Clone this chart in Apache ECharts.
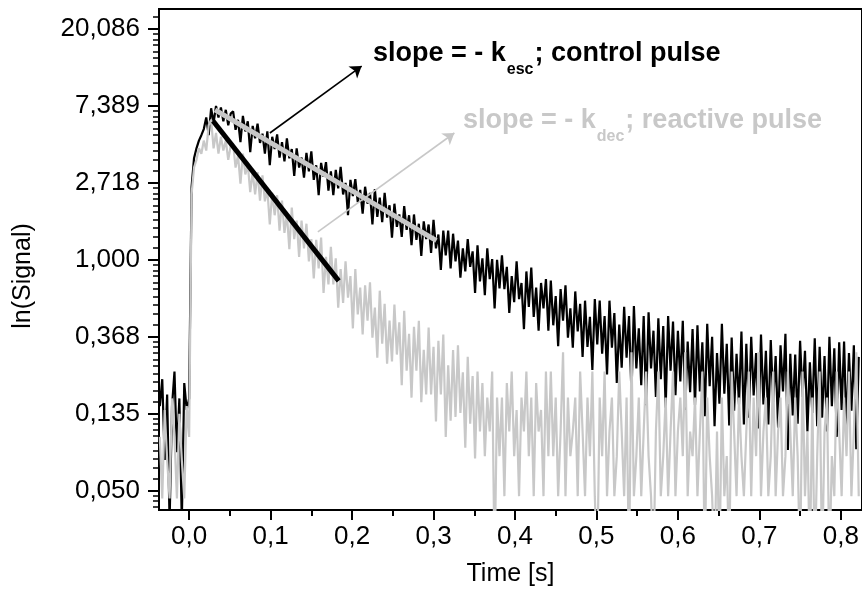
<!DOCTYPE html>
<html><head><meta charset="utf-8">
<script src="https://cdn.jsdelivr.net/npm/echarts@6.0.0/dist/echarts.min.js"></script>
<style>html,body{margin:0;padding:0;background:#fff}#c{width:862px;height:596px}</style>
</head><body><div id="c"></div>
<script>
// time sampling of the recorded traces [s]
const T0 = -0.036, DT = 0.003;
// ln(Signal) of the control pulse (black)
const controlPulse = [
-1.9,-1.55,-2.6,-1.75,-3.4,-1.9,-1.45,-2.5,-1.8,-3.4,-1.6,-1.95,
-1.8,
0.95,1.32,1.45,1.55,1.62,1.70,1.85,1.62,1.97,1.78,2.0,1.85,1.98,1.80,1.95,1.75,1.90,
1.93,1.69,1.82,1.53,1.87,1.67,1.80,1.40,1.74,1.58,
1.77,1.52,1.64,1.38,1.67,1.23,1.60,1.44,1.63,1.33,
1.53,1.28,1.58,1.32,1.44,1.09,1.45,1.20,1.33,1.07,
1.39,1.15,1.41,1.04,1.23,0.84,1.26,1.08,1.27,0.90,
1.15,0.84,1.17,0.93,1.21,0.85,1.00,0.58,1.04,0.83,
1.05,0.75,0.91,0.60,0.95,0.73,0.87,0.46,0.92,0.56,
0.81,0.49,0.87,0.55,0.71,0.29,0.73,0.43,0.59,0.30,
0.70,0.39,0.58,0.19,0.59,0.26,0.47,0.05,0.50,0.27,
0.46,0.09,0.52,0.15,0.33,-0.13,0.38,0.06,0.38,-0.11,
0.34,-0.02,0.25,-0.23,0.15,-0.15,0.27,-0.09,0.11,-0.43,
0.19,-0.28,0.02,-0.46,0.15,-0.25,0.01,-0.63,0.00,-0.37,
0.06,-0.38,-0.09,-0.69,-0.21,-0.55,-0.02,-0.51,-0.30,-0.90,
-0.15,-0.61,-0.10,-0.74,-0.36,-0.92,-0.30,-0.63,-0.25,-0.92,
-0.27,-0.85,-0.47,-1.12,-0.38,-0.79,-0.33,-1.01,-0.63,-1.14,
-0.41,-0.93,-0.57,-1.26,-0.53,-1.13,-0.74,-1.43,-0.51,-1.10,
-0.53,-1.22,-0.73,-1.49,-0.53,-1.14,-0.69,-1.60,-0.84,-1.40,
-0.61,-1.27,-0.73,-1.74,-0.60,-1.41,-0.89,-1.63,-0.73,-1.89,
-0.68,-1.41,-0.92,-1.78,-0.76,-1.55,-0.86,-1.92,-0.73,-1.44,
-0.80,-1.76,-0.92,-1.58,-0.79,-1.95,-1.06,-1.72,-0.90,-1.89,
-0.85,-1.71,-1.07,-2.03,-0.83,-1.64,-1.00,-2.16,-1.21,-1.87,
-0.83,-1.74,-1.09,-2.15,-1.01,-1.96,-1.22,-1.88,-0.93,-2.14,
-1.09,-2.05,-1.00,-1.76,-1.21,-2.19,-0.97,-1.88,-1.18,-2.14,
-1.04,-1.85,-1.25,-2.18,-1.11,-1.71,-0.96,-2.47,-1.22,-2.02,
-1.23,-2.13,-1.05,-1.78,-1.18,-2.23,-1.33,-1.99,-1.02,-2.16,
-1.13,-2.05,-1.25,-2.23,-1.00,-1.90,-1.15,-2.30,-1.07,-1.95,
-1.06,-2.21,-1.21,-1.96,-1.11,-2.46,-1.26
];
// ln(Signal) of the reactive pulse (grey)
const reactivePulse = [
-2.3,-3.1,-1.95,-2.6,-3.1,-1.8,-2.3,-3.1,-2.0,-2.6,-3.1,-1.9,
-2.3,
0.85,1.2,1.3,1.45,1.38,1.55,1.42,1.75,1.82,1.45,1.65,1.38,1.6,1.42,1.55,1.30,1.48,
1.51,1.20,1.36,0.99,1.38,1.11,1.24,0.88,1.14,0.85,
1.14,0.77,1.10,0.76,0.92,0.46,0.87,0.58,0.84,0.38,
0.77,0.35,0.60,0.14,0.68,0.27,0.51,0.04,0.51,0.15,
0.47,-0.02,0.27,-0.24,0.26,-0.11,0.29,-0.43,0.04,-0.32,
0.17,-0.32,0.02,-0.62,-0.12,-0.56,-0.02,-0.49,-0.21,-0.89,
-0.12,-0.71,-0.36,-0.97,-0.33,-0.79,-0.29,-1.01,-0.62,-1.27,
-0.40,-1.09,-0.57,-1.35,-0.79,-1.32,-0.58,-1.23,-0.81,-1.63,
-0.66,-1.44,-0.96,-1.79,-0.87,-1.44,-0.79,-1.85,-1.17,-1.75,
-0.88,-1.75,-1.13,-2.10,-1.05,-1.75,-0.97,-2.30,-1.37,-2.09,
-1.17,-2.04,-1.11,-1.99,-1.46,-2.44,-1.26,-2.13,-1.51,-2.58,
-1.45,-2.23,-1.60,-2.55,-1.79,-2.23,-1.45,-4.0,-1.79,-2.55,
-1.79,-3.07,-1.60,-2.23,-1.45,-2.55,-1.95,-3.07,-1.79,-2.23,
-1.45,-2.55,-1.79,-3.07,-1.60,-2.23,-1.95,-3.07,-1.45,-2.55,
-1.45,-2.55,-1.79,-3.07,-2.23,-1.20,-3.07,-1.79,-2.55,-2.23,
-1.79,-3.07,-1.45,-2.23,-3.07,-1.79,-2.55,-1.45,-3.07,-4,
-1.79,-2.55,-1.45,-3.07,-2.23,-1.79,-3.07,-2.55,-1.45,-2.23,
-3.07,-1.79,-4,-1.20,-3.07,-2.55,-1.79,-3.07,-2.23,-1.45,
-2.55,-3.07,-4,-2.23,-1.45,-3.07,-2.55,-1.79,-3.07,-2.23,
-1.45,-3.07,-2.23,-1.79,-2.55,-1.20,-3.07,-2.23,-2.55,-1.79,
-3.07,-2.23,-1.45,-4,-1.79,-2.55,-3.07,-4,-2.23,-4,
-1.79,-3.07,-2.55,-4,-1.45,-2.23,-3.07,-1.79,-2.55,-3.07,
-2.23,-1.45,-3.07,-1.79,-2.55,-1.20,-3.07,-2.23,-1.79,-3.07,
-2.55,-1.45,-3.07,-2.23,-1.79,-3.07,-2.55,-1.45,-2.23,-3.07,
-1.79,-2.55,-4,-1.45,-3.07,-2.23,-4,-1.79,-4,-2.55,
-1.45,-4,-2.23,-1.79,-4,-2.55,-3.07,-1.45,-2.23,-3.07,
-1.79,-2.55,-1.45,-3.07,-2.23,-1.20,-3.07
];
// fitted slopes and annotation arrows [time, ln(Signal)]
const controlFit = [[0.0318, 1.948], [0.3035, 0.251]];
const reactiveFit = [[0.0294, 1.805], [0.1836, -0.273]];
const controlArrow = [[0.0991, 1.649], [0.2118, 2.519]];
const reactiveArrow = [[0.158, 0.364], [0.3256, 1.649]];
// ticks
const xTickValues = [0, 0.1, 0.2, 0.3, 0.4, 0.5, 0.6, 0.7, 0.8];
const xTickLabels = ['0,0','0,1','0,2','0,3','0,4','0,5','0,6','0,7','0,8'];
const xMinorTicks = [0.05, 0.15, 0.25, 0.35, 0.45, 0.55, 0.65, 0.75];
const yTickValues = [-3, -2, -1, 0, 1, 2, 3];
const yTickLabels = ['0,050','0,135','0,368','1,000','2,718','7,389','20,086'];
const annotControl = ['slope = - k', 'esc', '; control pulse'];
const annotReactive = ['slope = - k', 'dec', '; reactive pulse'];

const FONT = '"Liberation Sans", Arial, Helvetica, sans-serif';
const X_MIN = -0.037, X_MAX = 0.826, Y_MIN = -3.25, Y_MAX = 3.26;

// minor ticks of the ln axis (linear subdivisions within each e-decade)
const yMinorTicks = [];
for (let n = -4; n <= 3; n++) {
  for (let j = 1; j <= 9; j++) {
    const v = n + Math.log(1 + j * (Math.E - 1) / 10);
    if (v > Y_MIN && v < Y_MAX) yMinorTicks.push(v);
  }
}

const toXY = arr => arr.map((v, i) => [+(T0 + DT * i).toFixed(4), v]);
function nearestLabel(v, vals, labels) {
  let best = 0;
  for (let i = 1; i < vals.length; i++) if (Math.abs(vals[i] - v) < Math.abs(vals[best] - v)) best = i;
  return labels[best];
}

const mctx = document.createElement('canvas').getContext('2d');
function measure(t, size, weight) { mctx.font = weight + ' ' + size + 'px ' + FONT; return mctx.measureText(t).width; }
function annotation(parts, x, yMain, ySub, color) {
  const big = 27, small = 16;
  const w0 = measure(parts[0], big, 'bold');
  const w1 = measure(parts[1], small, 'bold');
  const mk = (t, xx, yy, s) => ({ type: 'text', x: xx, y: yy, silent: true,
    style: { text: t, fill: color, fontSize: s, fontWeight: 'bold', fontFamily: FONT, align: 'left', verticalAlign: 'middle' } });
  return [mk(parts[0], x, yMain, big), mk(parts[1], x + w0 + 1, ySub, small), mk(parts[2], x + w0 + w1 + 2, yMain, big)];
}

const chart = echarts.init(document.getElementById('c'), null, { renderer: 'canvas' });
const axisCommon = { min: X_MIN, max: X_MAX, type: 'value', gridIndex: 0, splitLine: { show: false } };
chart.setOption({
  animation: false,
  backgroundColor: '#fff',
  grid: { left: 159, top: 9, width: 705, height: 501, show: true, borderColor: '#000', borderWidth: 2 },
  xAxis: [
    Object.assign({}, axisCommon, {
      position: 'bottom',
      name: 'Time [s]', nameLocation: 'middle', nameGap: 52,
      nameTextStyle: { fontSize: 25, color: '#000', fontFamily: FONT },
      axisLine: { show: true, onZero: false, lineStyle: { color: '#000', width: 2 } },
      axisTick: { show: true, inside: false, length: 10, customValues: xTickValues, lineStyle: { color: '#000', width: 2 } },
      axisLabel: { show: true, customValues: xTickValues, margin: 14, fontSize: 26, color: '#000', fontFamily: FONT,
        formatter: v => nearestLabel(v, xTickValues, xTickLabels) }
    }),
    Object.assign({}, axisCommon, {
      position: 'bottom',
      axisLine: { show: false, onZero: false },
      axisTick: { show: true, inside: false, length: 6, customValues: xMinorTicks, lineStyle: { color: '#000', width: 2 } },
      axisLabel: { show: false }
    })
  ],
  yAxis: [
    { type: 'value', min: Y_MIN, max: Y_MAX, position: 'left', splitLine: { show: false },
      axisLine: { show: true, onZero: false, lineStyle: { color: '#000', width: 2 } },
      axisTick: { show: true, inside: false, length: 11, customValues: yTickValues, lineStyle: { color: '#000', width: 2 } },
      axisLabel: { show: true, customValues: yTickValues, margin: 19, fontSize: 26, color: '#000', fontFamily: FONT,
        formatter: v => nearestLabel(v, yTickValues, yTickLabels) } },
    { type: 'value', min: Y_MIN, max: Y_MAX, position: 'left', splitLine: { show: false },
      axisLine: { show: false, onZero: false },
      axisTick: { show: true, inside: false, length: 6, customValues: yMinorTicks, lineStyle: { color: '#000', width: 1.5 } },
      axisLabel: { show: false } }
  ],
  series: [
    { name: 'control pulse', type: 'line', data: toXY(controlPulse), showSymbol: false, symbol: 'none', z: 2,
      lineStyle: { color: '#000', width: 2.2 }, itemStyle: { color: '#000' }, emphasis: { disabled: true }, clip: true },
    { name: 'reactive pulse', type: 'line', data: toXY(reactivePulse), showSymbol: false, symbol: 'none', z: 3,
      lineStyle: { color: '#c8c8c8', width: 2.2 }, itemStyle: { color: '#c8c8c8' }, emphasis: { disabled: true }, clip: true },
    { name: 'control fit', type: 'line', data: controlFit, showSymbol: false, symbol: 'none', z: 4,
      lineStyle: { color: '#c8c8c8', width: 5 }, emphasis: { disabled: true },
      markLine: { silent: true, symbol: ['none', 'arrow'], symbolSize: 11, animation: false,
        lineStyle: { color: '#000', width: 1.6, type: 'solid' }, label: { show: false }, emphasis: { disabled: true },
        data: [[{ coord: controlArrow[0] }, { coord: controlArrow[1] }]] } },
    { name: 'reactive fit', type: 'line', data: reactiveFit, showSymbol: false, symbol: 'none', z: 4,
      lineStyle: { color: '#000', width: 5 }, emphasis: { disabled: true },
      markLine: { silent: true, symbol: ['none', 'arrow'], symbolSize: 11, animation: false,
        lineStyle: { color: '#c8c8c8', width: 1.6, type: 'solid' }, label: { show: false }, emphasis: { disabled: true },
        data: [[{ coord: reactiveArrow[0] }, { coord: reactiveArrow[1] }]] } }
  ],
  graphic: [
    { type: 'text', x: 23, y: 276, rotation: Math.PI / 2, silent: true,
      style: { text: 'ln(Signal)', fill: '#000', fontSize: 25, fontFamily: FONT, align: 'center', verticalAlign: 'middle' } }
  ].concat(annotation(annotControl, 373, 54, 70, '#000'))
   .concat(annotation(annotReactive, 463, 121, 137, '#c8c8c8'))
});
</script></body></html>
